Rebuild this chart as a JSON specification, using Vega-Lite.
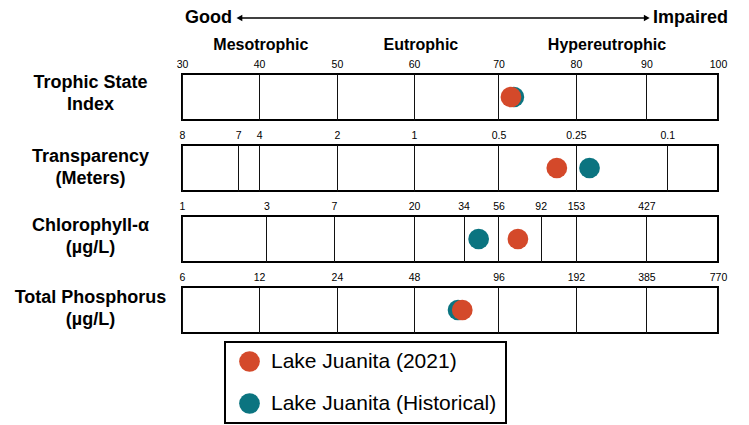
{
  "$schema": "https://vega.github.io/schema/vega-lite/v6.json",
  "background": "white",
  "padding": {"left": 13, "top": 5, "right": 5, "bottom": 0},
  "config": {
    "font": "Liberation Sans",
    "view": {"stroke": "black", "strokeWidth": 2},
    "legend": {"strokeWidth": 2},
    "axisX": {"ticks": false, "domain": false, "grid": true, "gridColor": "#111111", "gridOpacity": 1, "gridWidth": 1, "labelFontSize": 10.5, "labelColor": "black", "labelFont": "Liberation Sans", "labelPadding": 5, "labelFlush": false, "labelOverlap": false, "title": null},
    "axisY": {"ticks": false, "domain": false, "grid": false, "labelFontSize": 18, "labelFontWeight": "bold", "labelColor": "black", "labelFont": "Liberation Sans", "labelAlign": "center", "labelBaseline": "middle", "labelPadding": 92, "labelLineHeight": 22, "labelLimit": 400, "title": null}
  },
  "data": {
    "values": [
      {"param": "Trophic State Index", "series": "Lake Juanita (Historical)", "tsi": 73.34},
      {"param": "Trophic State Index", "series": "Lake Juanita (2021)", "tsi": 72.96},
      {"param": "Transparency (Meters)", "series": "Lake Juanita (Historical)", "tsi": 83.22},
      {"param": "Transparency (Meters)", "series": "Lake Juanita (2021)", "tsi": 78.95},
      {"param": "Chlorophyll-α (µg/L)", "series": "Lake Juanita (Historical)", "tsi": 68.74},
      {"param": "Chlorophyll-α (µg/L)", "series": "Lake Juanita (2021)", "tsi": 73.87},
      {"param": "Total Phosphorus (µg/L)", "series": "Lake Juanita (Historical)", "tsi": 66.05},
      {"param": "Total Phosphorus (µg/L)", "series": "Lake Juanita (2021)", "tsi": 66.6}
    ]
  },
  "spacing": 25,
  "bounds": "flush",
  "vconcat": [
    {
      "width": 536,
      "height": 44,
      "view": {"stroke": null},
      "data": {
        "values": [
          {"text": "Good", "kind": "end", "x": 30.4, "y": 31},
          {"text": "Impaired", "kind": "end", "x": 91.5, "y": 31},
          {"text": "Mesotrophic", "kind": "state", "x": 40.3, "y": 4.5},
          {"text": "Eutrophic", "kind": "state", "x": 61.2, "y": 4.5},
          {"text": "Hypereutrophic", "kind": "state", "x": 85.5, "y": 4.5},
          {"kind": "arrow", "x": 37.6, "xend": 90.6, "y": 31},
          {"kind": "head", "dir": "left", "x": 37.5, "y": 31},
          {"kind": "head", "dir": "right", "x": 90.7, "y": 31}
        ]
      },
      "encoding": {
        "x": {"field": "x", "type": "quantitative", "scale": {"domain": [30, 100], "nice": false, "zero": false}, "axis": null},
        "y": {"field": "y", "type": "quantitative", "scale": {"domain": [0, 44], "nice": false, "zero": false}, "axis": null}
      },
      "layer": [
        {
          "transform": [{"filter": "datum.kind === 'end'"}],
          "mark": {"type": "text", "align": "left", "baseline": "middle", "fontSize": 18, "fontWeight": "bold", "color": "black"},
          "encoding": {"text": {"field": "text"}}
        },
        {
          "transform": [{"filter": "datum.kind === 'state'"}],
          "mark": {"type": "text", "align": "center", "baseline": "middle", "fontSize": 16, "fontWeight": "bold", "color": "black"},
          "encoding": {"text": {"field": "text"}}
        },
        {
          "transform": [{"filter": "datum.kind === 'arrow'"}],
          "mark": {"type": "rule", "color": "black", "strokeWidth": 1.5},
          "encoding": {"x2": {"field": "xend"}}
        },
        {
          "transform": [{"filter": "datum.kind === 'head'"}],
          "mark": {"type": "point", "filled": true, "opacity": 1, "color": "black", "size": 45},
          "encoding": {"shape": {"field": "dir", "type": "nominal", "scale": {"domain": ["left", "right"], "range": ["triangle-left", "triangle-right"]}, "legend": null}}
        }
      ]
    },
    {
      "width": 536,
      "height": 46,
      "transform": [{"filter": "datum.param === 'Trophic State Index'"}],
      "mark": {"type": "point", "filled": true, "opacity": 1, "size": 430, "shape": "circle"},
      "encoding": {
        "x": {"field": "tsi", "type": "quantitative", "scale": {"domain": [30, 100], "nice": false, "zero": false},
          "axis": {"orient": "top", "values": [30, 40.07, 50.23, 60.3, 71.33, 81.45, 90.65, 100],
            "labelExpr": "['30','40','50','60','70','80','90','100'][indexof([30, 40.07, 50.23, 60.3, 71.33, 81.45, 90.65, 100], datum.value)]"}},
        "y": {"field": "param", "type": "nominal", "axis": {"labelOffset": -15, "labelExpr": "['Trophic State', 'Index']"}},
        "color": {"field": "series", "type": "nominal",
          "scale": {"domain": ["Lake Juanita (2021)", "Lake Juanita (Historical)"], "range": ["#D4492A", "#0B7480"]},
          "legend": {"title": null, "orient": "none", "legendX": 43, "legendY": 337, "strokeColor": "black", "padding": 9, "symbolOffset": 5, "labelFontSize": 21, "labelFont": "Liberation Sans", "labelColor": "black", "labelOffset": 11, "rowPadding": 20, "symbolSize": 430, "symbolType": "circle", "symbolStrokeWidth": 0, "labelLimit": 400}}
      }
    },
    {
      "width": 536,
      "height": 46,
      "transform": [{"filter": "datum.param === 'Transparency (Meters)'"}],
      "mark": {"type": "point", "filled": true, "opacity": 1, "size": 430, "shape": "circle"},
      "encoding": {
        "x": {"field": "tsi", "type": "quantitative", "scale": {"domain": [30, 100], "nice": false, "zero": false},
          "axis": {"orient": "top", "values": [30, 37.34, 40.07, 50.23, 60.3, 71.33, 81.45, 93.38],
            "labelExpr": "['8','7','4','2','1','0.5','0.25','0.1'][indexof([30, 37.34, 40.07, 50.23, 60.3, 71.33, 81.45, 93.38], datum.value)]"}},
        "y": {"field": "param", "type": "nominal", "axis": {"labelOffset": -11.5, "labelExpr": "['Transparency', '(Meters)']"}},
        "color": {"field": "series", "type": "nominal",
          "scale": {"domain": ["Lake Juanita (2021)", "Lake Juanita (Historical)"], "range": ["#D4492A", "#0B7480"]}}
      }
    },
    {
      "width": 536,
      "height": 46,
      "transform": [{"filter": "datum.param === 'Chlorophyll-α (µg/L)'"}],
      "mark": {"type": "point", "filled": true, "opacity": 1, "size": 430, "shape": "circle"},
      "encoding": {
        "x": {"field": "tsi", "type": "quantitative", "scale": {"domain": [30, 100], "nice": false, "zero": false},
          "axis": {"orient": "top", "values": [30, 41.03, 49.85, 60.3, 66.77, 71.33, 76.84, 81.45, 90.65],
            "labelExpr": "['1','3','7','20','34','56','92','153','427'][indexof([30, 41.03, 49.85, 60.3, 66.77, 71.33, 76.84, 81.45, 90.65], datum.value)]"}},
        "y": {"field": "param", "type": "nominal", "axis": {"labelOffset": -13.5, "labelExpr": "['Chlorophyll-α', '(µg/L)']"}},
        "color": {"field": "series", "type": "nominal",
          "scale": {"domain": ["Lake Juanita (2021)", "Lake Juanita (Historical)"], "range": ["#D4492A", "#0B7480"]}}
      }
    },
    {
      "width": 536,
      "height": 46,
      "transform": [{"filter": "datum.param === 'Total Phosphorus (µg/L)'"}],
      "mark": {"type": "point", "filled": true, "opacity": 1, "size": 430, "shape": "circle"},
      "encoding": {
        "x": {"field": "tsi", "type": "quantitative", "scale": {"domain": [30, 100], "nice": false, "zero": false},
          "axis": {"orient": "top", "values": [30, 40.07, 50.23, 60.3, 71.33, 81.45, 90.65, 100],
            "labelExpr": "['6','12','24','48','96','192','385','770'][indexof([30, 40.07, 50.23, 60.3, 71.33, 81.45, 90.65, 100], datum.value)]"}},
        "y": {"field": "param", "type": "nominal", "axis": {"labelOffset": -13, "labelExpr": "['Total Phosphorus', '(µg/L)']"}},
        "color": {"field": "series", "type": "nominal",
          "scale": {"domain": ["Lake Juanita (2021)", "Lake Juanita (Historical)"], "range": ["#D4492A", "#0B7480"]}}
      }
    }
  ]
}
